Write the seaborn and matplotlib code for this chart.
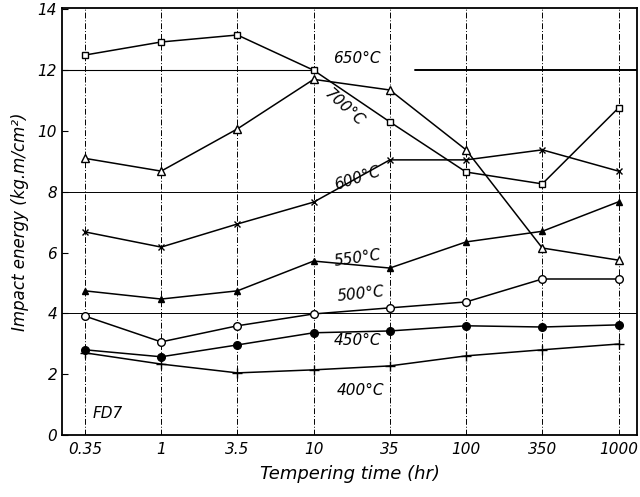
import numpy as np
import matplotlib
matplotlib.use("Agg")
import matplotlib.pyplot as plt
import seaborn as sns

# tempering time categories (hr), drawn at equal spacing
times = ["0.35", "1", "3.5", "10", "35", "100", "350", "1000"]

# impact energy (kg.m/cm2)
e700 = [12.5, 12.93, 13.16, 12.0, 10.3, 8.65, 8.26, 10.76]
e650 = [9.1, 8.68, 10.07, 11.7, 11.35, 9.38, 6.15, 5.75]
e600 = [6.68, 6.18, 6.94, 7.66, 9.05, 9.05, 9.38, 8.68]
e550 = [4.74, 4.47, 4.74, 5.72, 5.49, 6.35, 6.7, 7.67]
e500 = [3.91, 3.06, 3.59, 3.98, 4.18, 4.375, 5.13, 5.13]
e450 = [2.8, 2.57, 2.96, 3.36, 3.42, 3.59, 3.55, 3.62]
e400 = [2.7, 2.33, 2.04, 2.14, 2.27, 2.6, 2.8, 2.99]

sns.set_style("ticks")
plt.rcParams["font.family"] = ["DejaVu Sans"]
plt.rcParams["font.style"] = "italic"
plt.rcParams["text.color"] = "black"
plt.rcParams["axes.labelcolor"] = "black"
plt.rcParams["xtick.color"] = "black"
plt.rcParams["ytick.color"] = "black"

fig = plt.figure(figsize=(6.4, 4.97), dpi=100)
ax = fig.add_axes([0.097, 0.125, 0.898, 0.859])

xpos = np.arange(len(times))

#vertical guide lines at each time + horizontal grid at 4, 8, 12
for xp in xpos:
    ax.axvline(xp, color="black", lw=0.7, ls=(0, (6, 2, 1, 2)), zorder=0)
ax.axhline(4, color="black", lw=0.7, zorder=0)
ax.axhline(8, color="black", lw=0.7, zorder=0)
ax.axhline(12, xmin=0, xmax=0.435, color="black", lw=0.8, zorder=0)
ax.axhline(12, xmin=0.614, xmax=1, color="black", lw=1.4, zorder=0)

series = [
    (e700, "s", "white", 5),
    (e650, "^", "white", 5.5),
    (e600, "x", "black", 5),
    (e550, "^", "black", 4.5),
    (e500, "o", "white", 5.5),
    (e450, "o", "black", 5.5),
    (e400, "+", "black", 7),
]
for vals, mk, fc, ms in series:
    sns.lineplot(x=xpos, y=vals, ax=ax, color="black", lw=1.1, marker=mk,
                 markerfacecolor=fc, markeredgecolor="black", markersize=ms,
                 markeredgewidth=1.0)

# curve labels
ax.text(3.25, 12.25, "650°C", fontsize=11)
ax.text(3.1, 10.15, "700°C", fontsize=11, rotation=-42)
ax.text(3.25, 8.05, "600°C", fontsize=11, rotation=18)
ax.text(3.25, 5.55, "550°C", fontsize=11, rotation=8)
ax.text(3.3, 4.4, "500°C", fontsize=11, rotation=6)
ax.text(3.27, 2.95, "450°C", fontsize=11)
ax.text(3.3, 1.3, "400°C", fontsize=11)
ax.text(0.1, 0.55, "FD7", fontsize=11)

ax.set_xlim(-0.3, 7.24)
ax.set_ylim(0, 14.05)
ax.set_xticks(xpos)
ax.set_xticklabels(times, fontsize=11)
ax.set_yticks(range(0, 15, 2))
ax.tick_params(axis="y", labelsize=11, direction="in", length=4)
ax.tick_params(axis="x", length=0, pad=5)
for s in ax.spines.values():
    s.set_color("black")
    s.set_linewidth(1.3)
ax.set_xlabel("Tempering time (hr)", fontsize=13, labelpad=6)
ax.set_ylabel("Impact energy (kg.m/cm²)", fontsize=12, labelpad=6)

fig.savefig("out.png", dpi=100)
